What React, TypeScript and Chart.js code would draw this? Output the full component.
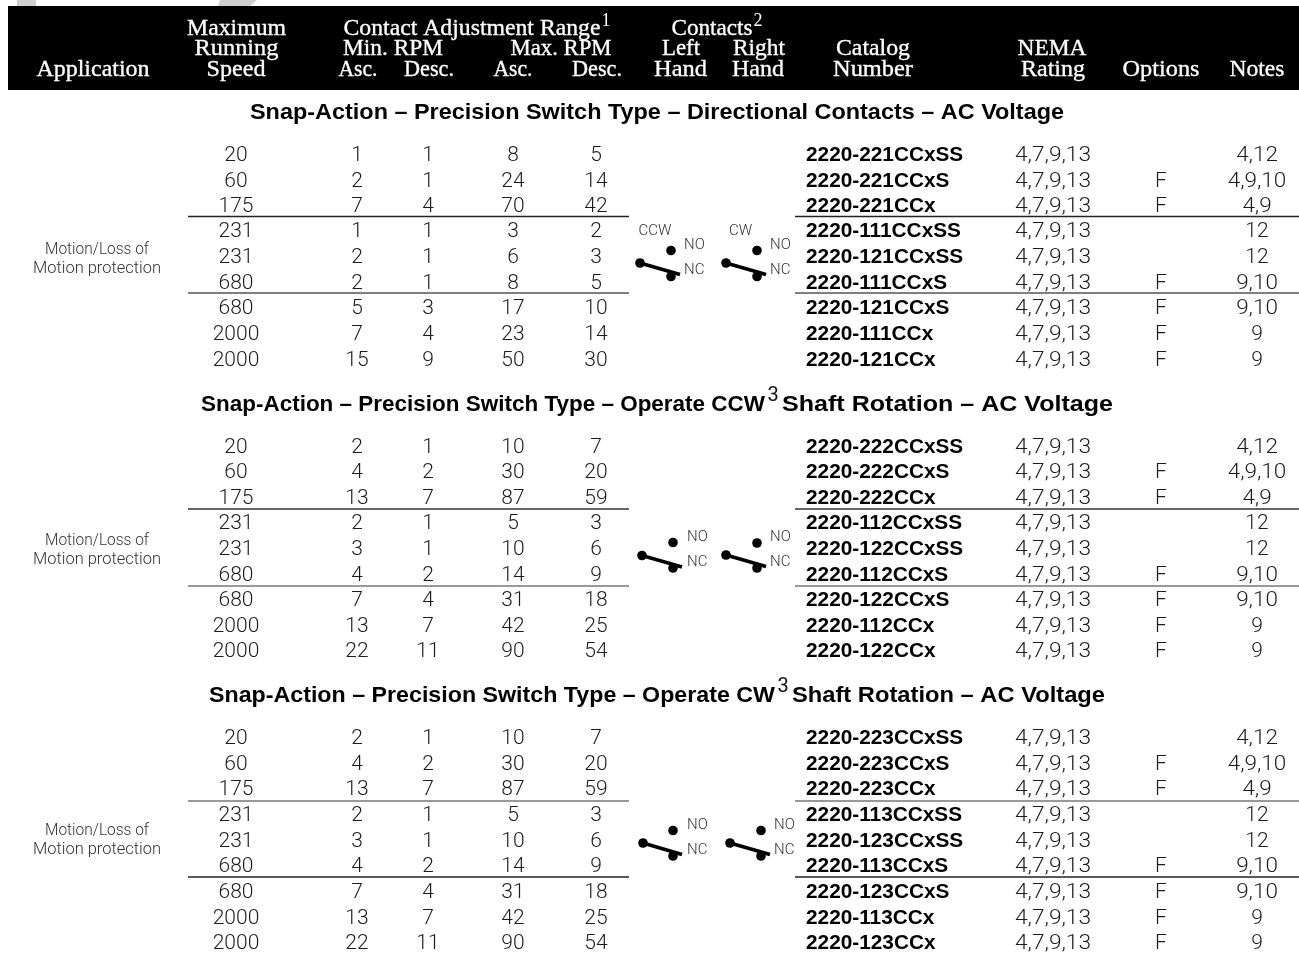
import React, { useEffect, useRef } from "react";
import { Chart, registerables } from "chart.js";

Chart.register(...registerables);

const speeds = [20, 60, 175, 231, 231, 680, 680, 2000, 2000];
const minAscA = [1, 2, 7, 1, 2, 2, 5, 7, 15];
const minDescA = [1, 1, 4, 1, 1, 1, 3, 4, 9];
const maxAscA = [8, 24, 70, 3, 6, 8, 17, 23, 50];
const maxDescA = [5, 14, 42, 2, 3, 5, 10, 14, 30];
const minAscB = [2, 4, 13, 2, 3, 4, 7, 13, 22];
const minDescB = [1, 2, 7, 1, 1, 2, 4, 7, 11];
const maxAscB = [10, 30, 87, 5, 10, 14, 31, 42, 90];
const maxDescB = [7, 20, 59, 3, 6, 9, 18, 25, 54];
const catalogA = ["2220-221CCxSS", "2220-221CCxS", "2220-221CCx", "2220-111CCxSS", "2220-121CCxSS", "2220-111CCxS", "2220-121CCxS", "2220-111CCx", "2220-121CCx"];
const catalogB = ["2220-222CCxSS", "2220-222CCxS", "2220-222CCx", "2220-112CCxSS", "2220-122CCxSS", "2220-112CCxS", "2220-122CCxS", "2220-112CCx", "2220-122CCx"];
const catalogC = ["2220-223CCxSS", "2220-223CCxS", "2220-223CCx", "2220-113CCxSS", "2220-123CCxSS", "2220-113CCxS", "2220-123CCxS", "2220-113CCx", "2220-123CCx"];
const nemaRating = "4,7,9,13";
const optionsCol = ["", "F", "F", "", "", "F", "F", "F", "F"];
const notesCol = ["4,12", "4,9,10", "4,9", "12", "12", "9,10", "9,10", "9", "9"];
const sectionTitles = [
  ["Snap-Action – Precision Switch Type – Directional Contacts – AC Voltage", ""],
  ["Snap-Action – Precision Switch Type – Operate CCW", " Shaft Rotation – AC Voltage"],
  ["Snap-Action – Precision Switch Type – Operate CW", " Shaft Rotation – AC Voltage"],
];

const BODY = '300 21px Roboto, "Liberation Sans", sans-serif';
const BOLD = 'bold 20.8px "Liberation Sans", sans-serif';
const SMALL = '300 15px Roboto, "Liberation Sans", sans-serif';
const APP = '300 16px Roboto, "Liberation Sans", sans-serif';
const HEAD = '500 24px "Liberation Serif", serif';
const SUP = '18px "Liberation Serif", serif';
const SECT = 'bold 21.5px "Liberation Sans", sans-serif';
const fontLift: Record<string, number> = { [BODY]: 2, [BOLD]: 1, [SMALL]: 1, [APP]: 1.5, [HEAD]: 2, [SECT]: 2 };

type Lbl = { x: number; y: number; t: string; f: string; c: string; a: CanvasTextAlign; w?: number; k?: number };

const rowYs = [
  [154, 180, 205, 230, 256, 282, 307, 333, 359],
  [446, 471, 497, 522, 548, 574, 599, 625, 650],
  [737, 763, 788, 814, 840, 865, 891, 917, 942],
];
const appYs = [[248, 267], [539, 558], [829, 848]];
const columns = {
  speed: 236, minAsc: 357, minDesc: 428, maxAsc: 513, maxDesc: 596,
  catalog: 806, nema: 1015, options: 1161, notes: 1257,
};
const INK = "#1c1c1c";

function buildLabels(): Lbl[] {
  const out: Lbl[] = [];
  const add = (x: number, y: number, t: string, f: string, c: string, a: CanvasTextAlign, w?: number, k?: number) =>
    out.push({ x, y, t, f, c, a, w, k });
  const head: [number, number, string, number][] = [
    [93, 68, "Application", 113], [236.5, 27, "Maximum", 99], [236.5, 47, "Running", 84], [236, 68, "Speed", 59],
    [472, 27, "Contact Adjustment Range", 257], [393, 47, "Min. RPM", 100], [561, 47, "Max. RPM", 101],
    [358, 68, "Asc.", 39], [429, 68, "Desc.", 50], [513, 68, "Asc.", 39], [597, 68, "Desc.", 50],
    [712, 27, "Contacts", 81], [681, 47, "Left", 38], [759, 47, "Right", 52], [680.5, 68, "Hand", 53], [758, 68, "Hand", 52],
    [873, 47, "Catalog", 74], [873, 68, "Number", 80], [1052, 47, "NEMA", 69], [1053, 68, "Rating", 64],
    [1161, 68, "Options", 77], [1257, 68, "Notes", 55],
  ];
  head.forEach(([x, y, t, w]) => add(x, y, t, HEAD, "#ffffff", "center", w));
  add(606, 21, "1", SUP, "#ffffff", "center");
  add(758, 21, "2", SUP, "#ffffff", "center");

  const mins = [[minAscA, minDescA, maxAscA, maxDescA], [minAscB, minDescB, maxAscB, maxDescB], [minAscB, minDescB, maxAscB, maxDescB]];
  const cats = [catalogA, catalogB, catalogC];
  const titleY = [111, 403, 694];
  const titleL = [250, 201, 209];
  const titleR = [1064, 1113, 1105];
  const supX = [0, 765, 775];
  sectionTitles.forEach((s, g) => {
    if (!s[1]) add(titleL[g], titleY[g], s[0], SECT, "#000", "left", titleR[g] - titleL[g]);
    else {
      add(titleL[g], titleY[g], s[0], SECT, "#000", "left", supX[g] - titleL[g]);
      add(supX[g] + 17, titleY[g], s[1].trim(), SECT, "#000", "left", titleR[g] - supX[g] - 17);
      add(supX[g] + 8, titleY[g] - 7, "3", '400 20px Roboto, "Liberation Sans", sans-serif', "#111", "center");
    }
    add(97, appYs[g][0], "Motion/Loss of", APP, "#333", "center", 104);
    add(97, appYs[g][1], "Motion protection", APP, "#333", "center", 128);
    rowYs[g].forEach((y, i) => {
      add(columns.speed, y, String(speeds[i]), BODY, INK, "center");
      add(columns.minAsc, y, String(mins[g][0][i]), BODY, INK, "center");
      add(columns.minDesc, y, String(mins[g][1][i]), BODY, INK, "center");
      add(columns.maxAsc, y, String(mins[g][2][i]), BODY, INK, "center");
      add(columns.maxDesc, y, String(mins[g][3][i]), BODY, INK, "center");
      add(columns.catalog, y, cats[g][i], BOLD, "#000", "left");
      add(columns.nema, y, nemaRating, BODY, INK, "left", 76);
      add(columns.options, y, optionsCol[i], BODY, INK, "center");
      add(columns.notes, y, notesCol[i], BODY, INK, "center", undefined, notesCol[i].includes(",") ? 1.07 : 1);
    });
  });
  const sym = [
    { no: 244, nc: 269, n1: 684, n2: 770 },
    { no: 536.5, nc: 561.5, n1: 687, n2: 770 },
    { no: 824, nc: 849, n1: 687, n2: 774 },
  ];
  sym.forEach((s) => {
    [s.n1, s.n2].forEach((nx) => {
      add(nx, s.no, "NO", SMALL, "#333", "left");
      add(nx, s.nc, "NC", SMALL, "#333", "left");
    });
  });
  add(638.5, 230, "CCW", SMALL, "#333", "left");
  add(729, 230, "CW", SMALL, "#333", "left");
  return out;
}

const labels = buildLabels();

const labelPlugin = {
  id: "cells",
  afterDatasetsDraw(chart: any) {
    const ctx = chart.ctx;
    const { x: xs, y: ys } = chart.scales;
    ctx.save();
    ctx.textBaseline = "middle";
    labels.forEach((l) => {
      if (!l.t) return;
      ctx.font = l.f;
      ctx.fillStyle = l.c;
      ctx.strokeStyle = l.c;
      ctx.textAlign = l.a;
      const px = xs.getPixelForValue(l.x);
      const py = ys.getPixelForValue(l.y + (fontLift[l.f] ?? 0));
      const k = l.w ? l.w / ctx.measureText(l.t).width : l.k ?? 1;
      ctx.save();
      ctx.translate(px, py);
      ctx.scale(k, 1);
      ctx.fillText(l.t, 0, 0);
      if (l.f === HEAD) {
        ctx.lineWidth = 0.35;
        ctx.strokeText(l.t, 0, 0);
      }
      ctx.restore();
    });
    ctx.restore();
  },
};

const backdrop = {
  id: "backdrop",
  beforeDatasetsDraw(chart: any) {
    const ctx = chart.ctx;
    const { x: xs, y: ys } = chart.scales;
    ctx.save();
    ctx.fillStyle = "#cfcfcf";
    [[[17, 0], [36, 0], [36, 6], [17, 6]], [[220, 0], [257, 0], [250, 6], [218, 6]]].forEach((poly) => {
      ctx.beginPath();
      poly.forEach(([a, b], i) => {
        const px = xs.getPixelForValue(a), py = ys.getPixelForValue(b);
        if (i) ctx.lineTo(px, py); else ctx.moveTo(px, py);
      });
      ctx.fill();
    });
    ctx.fillStyle = "#000";
    const l = xs.getPixelForValue(8), t = ys.getPixelForValue(6), r = xs.getPixelForValue(1299), b = ys.getPixelForValue(90);
    ctx.fillRect(l, t, r - l, b - t);
    ctx.restore();
  },
};

const ruleYs = [216.5, 293, 509, 586, 801, 877];
const ruleColors = ["#222", "#555", "#333", "#777", "#777", "#222"];

export default function App() {
  const ref = useRef<HTMLCanvasElement>(null);
  useEffect(() => {
    const rules = ruleYs.flatMap((y, i) => [
      { pts: [{ x: 188, y }, { x: 629, y }], c: ruleColors[i] },
      { pts: [{ x: 795, y }, { x: 1299, y }], c: ruleColors[i] },
    ]);
    const line = (data: any, c: string, w: number) => ({ type: "line", data, borderColor: c, borderWidth: w, pointRadius: 0, showLine: true });
    const levers = [
      [640, 263, 680, 274.5], [726, 263, 766, 274.5],
      [642, 555.5, 682, 567], [726, 555, 766, 566.5],
      [643, 843, 682, 854.5], [730, 843, 770, 854.5],
    ];
    const dots = [
      [671, 250.5], [671, 276.5], [640, 263], [757, 250.5], [757, 276.5], [726, 263],
      [673, 542.5], [673, 568], [642, 555.5], [757, 543], [757, 568], [726, 555],
      [673, 830.5], [673, 856], [643, 843], [761, 830.5], [761, 856], [730, 843],
    ];
    const chart = new Chart(ref.current as HTMLCanvasElement, {
      type: "scatter",
      data: {
        datasets: [
          ...rules.map((r) => line(r.pts, r.c, 1.5)),
          ...levers.map(([a, b, c, d]) => line([{ x: a, y: b }, { x: c, y: d }], "#000", 3.5)),
          { type: "scatter", data: dots.map(([x, y]) => ({ x, y })), pointRadius: 4.8, pointBackgroundColor: "#000", pointBorderWidth: 0 },
        ] as any,
      },
      options: {
        animation: false,
        responsive: false,
        devicePixelRatio: 1,
        layout: { padding: 0, autoPadding: false },
        plugins: { legend: { display: false }, tooltip: { enabled: false } },
        scales: {
          x: { type: "linear", min: 0, max: 1299, display: false },
          y: { type: "linear", min: 0, max: 953, reverse: true, display: false },
        },
      },
      plugins: [backdrop, labelPlugin],
    } as any);
    return () => chart.destroy();
  }, []);
  return (
    <canvas
      ref={ref}
      width={1299}
      height={953}
      style={{ position: "absolute", left: 0, top: 0, width: 1299, height: 953 }}
    />
  );
}
